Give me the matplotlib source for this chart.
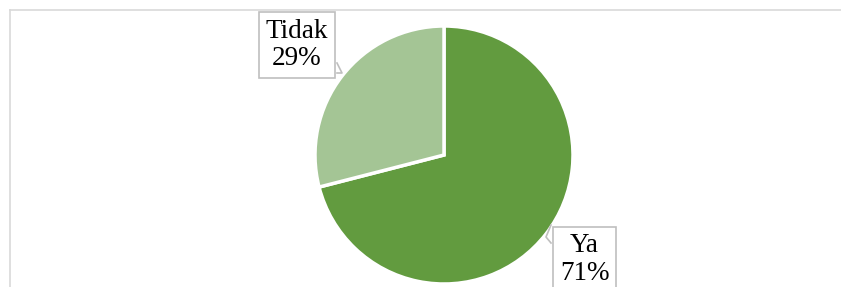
import matplotlib.pyplot as plt
from matplotlib.lines import Line2D

# data
labels = ["Ya", "Tidak"]
values = [71, 29]
colors = ["#629B3F", "#A4C595"]

plt.rcParams['font.family'] = ['Liberation Serif', 'DejaVu Serif']

fig = plt.figure(figsize=(8.41, 2.87), dpi=100)

# chart area border (only top and left visible, cropped)
fig.add_artist(Line2D([10 / 841, 1], [1 - 10 / 287, 1 - 10 / 287], color="#D9D9D9", lw=1.2))
fig.add_artist(Line2D([10 / 841, 10 / 841], [0, 1 - 10 / 287], color="#D9D9D9", lw=1.2))

# pie centre at (444,155) px, radius 129 px
r = 129
ax = fig.add_axes([(444 - r) / 841, (287 - 155 - r) / 287, 2 * r / 841, 2 * r / 287])
ax.pie(values, colors=colors, startangle=90, counterclock=False,
       wedgeprops=dict(edgecolor="white", linewidth=2.5), radius=1)
ax.set_xlim(-1, 1)
ax.set_ylim(-1, 1)
ax.set_aspect("equal")
ax.axis("off")

# data labels with callout boxes
label_pos = {"Tidak": (-1.14, 0.85), "Ya": (1.09, -0.81)}
for lab, v in zip(labels, values):
    x, y = label_pos[lab]
    ax.text(x, y, f"{lab}\n{v}%", ha="center", va="center", fontsize=19.5,
            linespacing=1.12, clip_on=False,
            bbox=dict(boxstyle="square,pad=0.25", fc="white", ec="#BFBFBF", lw=1.2))

# callout pointers
ax.plot([(337 - 444) / r, (342 - 444) / r, (337 - 444) / r],
        [(155 - 63) / r, (155 - 73) / r, (155 - 73) / r],
        color="#BFBFBF", lw=1.2, clip_on=False)
ax.plot([(551 - 444) / r, (546 - 444) / r, (551 - 444) / r],
        [(155 - 225) / r, (155 - 237) / r, (155 - 243) / r],
        color="#BFBFBF", lw=1.2, clip_on=False)

fig.savefig("out.png", dpi=100)
